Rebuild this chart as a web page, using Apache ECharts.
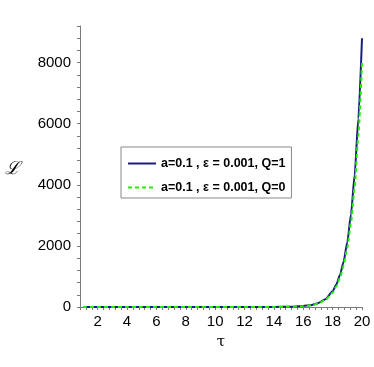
<!DOCTYPE html>
<html>
<head>
<meta charset="utf-8">
<script src="https://cdn.jsdelivr.net/npm/echarts@6/dist/echarts.min.js"></script>
<style>
  html, body { margin: 0; padding: 0; background: #fff; }
  #chart { width: 374px; height: 367px; }
</style>
</head>
<body>
<div id="chart"></div>
<script>
// tau values (x)
const tau = [1, 2, 3, 4, 5, 6, 7, 8, 9, 10, 11, 12, 13, 14, 15, 16, 16.5, 17, 17.5,
  18, 18.25, 18.5, 18.75, 19, 19.25, 19.5, 19.75, 20];
// a=0.1, eps=0.001, Q=1
const lQ1 = [0, 0, 0, 0, 0, 0, 0, 0, 0, 0, 0, 0, 0, 2, 7, 30, 61, 124, 253,
  514, 733, 1046, 1491, 2127, 3033, 4326, 6170, 8800];
// a=0.1, eps=0.001, Q=0
const lQ0 = [0, 0, 0, 0, 0, 0, 0, 0, 0, 0, 0, 0, 0, 2, 6, 27, 55, 112, 230,
  468, 668, 953, 1358, 1935, 2760, 3935, 5610, 8000];
const names = ["a=0.1 , ε = 0.001, Q=1", "a=0.1 , ε = 0.001, Q=0"];
const xLabels = [2, 4, 6, 8, 10, 12, 14, 16, 18, 20];
const yLabels = [0, 2000, 4000, 6000, 8000];

const chart = echarts.init(document.getElementById("chart"), null, { renderer: "canvas" });

const axisGray = "#7a7a7a";

const option = {
  animation: false,
  grid: { left: 80, right: 12, top: 26, bottom: 60 },
  legend: {
    orient: "vertical",
    left: 121,
    top: 147,
    padding: [10, 6, 4, 6],
    itemGap: 11,
    itemWidth: 28,
    itemHeight: 14,
    backgroundColor: "#fff",
    borderColor: "#888",
    borderWidth: 1,
    borderRadius: 0,
    itemStyle: { opacity: 0 },
    textStyle: { fontFamily: "Liberation Sans", fontSize: 12.5, fontWeight: "bold", color: "#000" },
    data: names
  },
  xAxis: {
    type: "value",
    min: 0.8,
    max: 20,
    interval: 0.4,
    name: "τ",
    nameLocation: "middle",
    nameGap: 35,
    nameTextStyle: { fontFamily: "DejaVu Serif", fontSize: 15, color: "#000", verticalAlign: "middle" },
    splitLine: { show: false },
    axisLine: { onZero: false, lineStyle: { color: axisGray, width: 1 } },
    axisTick: { show: true, length: 3, lineStyle: { color: axisGray } },
    axisLabel: {
      margin: 7,
      fontFamily: "Liberation Sans",
      fontSize: 15,
      color: "#000",
      formatter: function (v) {
        const r = Math.round(v);
        return Math.abs(v - r) < 1e-6 && xLabels.indexOf(r) >= 0 ? String(r) : "";
      }
    }
  },
  yAxis: {
    type: "value",
    min: 0,
    max: 9200,
    interval: 400,
    splitLine: { show: false },
    axisLine: { show: true, onZero: false, lineStyle: { color: axisGray, width: 1 } },
    axisTick: { show: true, length: 3, lineStyle: { color: axisGray } },
    axisLabel: {
      margin: 9,
      fontFamily: "Liberation Sans",
      fontSize: 15,
      color: "#000",
      formatter: function (v) {
        return yLabels.indexOf(v) >= 0 ? String(v) : "";
      }
    }
  },
  graphic: [
    {
      type: "text",
      left: 5,
      top: 160,
      style: { text: "ℒ", font: "italic 18px 'DejaVu Serif'", fill: "#000" }
    }
  ],
  series: [
    {
      name: names[0],
      type: "line",
      symbol: "none",
      smooth: 0.2,
      smoothMonotone: "x",
      data: tau.map((t, i) => [t, lQ1[i]]),
      lineStyle: { color: "#1c1c80", width: 2 },
      itemStyle: { color: "#1c1c80" }
    },
    {
      name: names[1],
      type: "line",
      symbol: "none",
      smooth: 0.2,
      smoothMonotone: "x",
      data: tau.map((t, i) => [t, lQ0[i]]),
      lineStyle: { color: "#22ee00", width: 2, type: [4, 3] },
      itemStyle: { color: "#22ee00" }
    }
  ]
};

chart.setOption(option);
</script>
</body>
</html>
